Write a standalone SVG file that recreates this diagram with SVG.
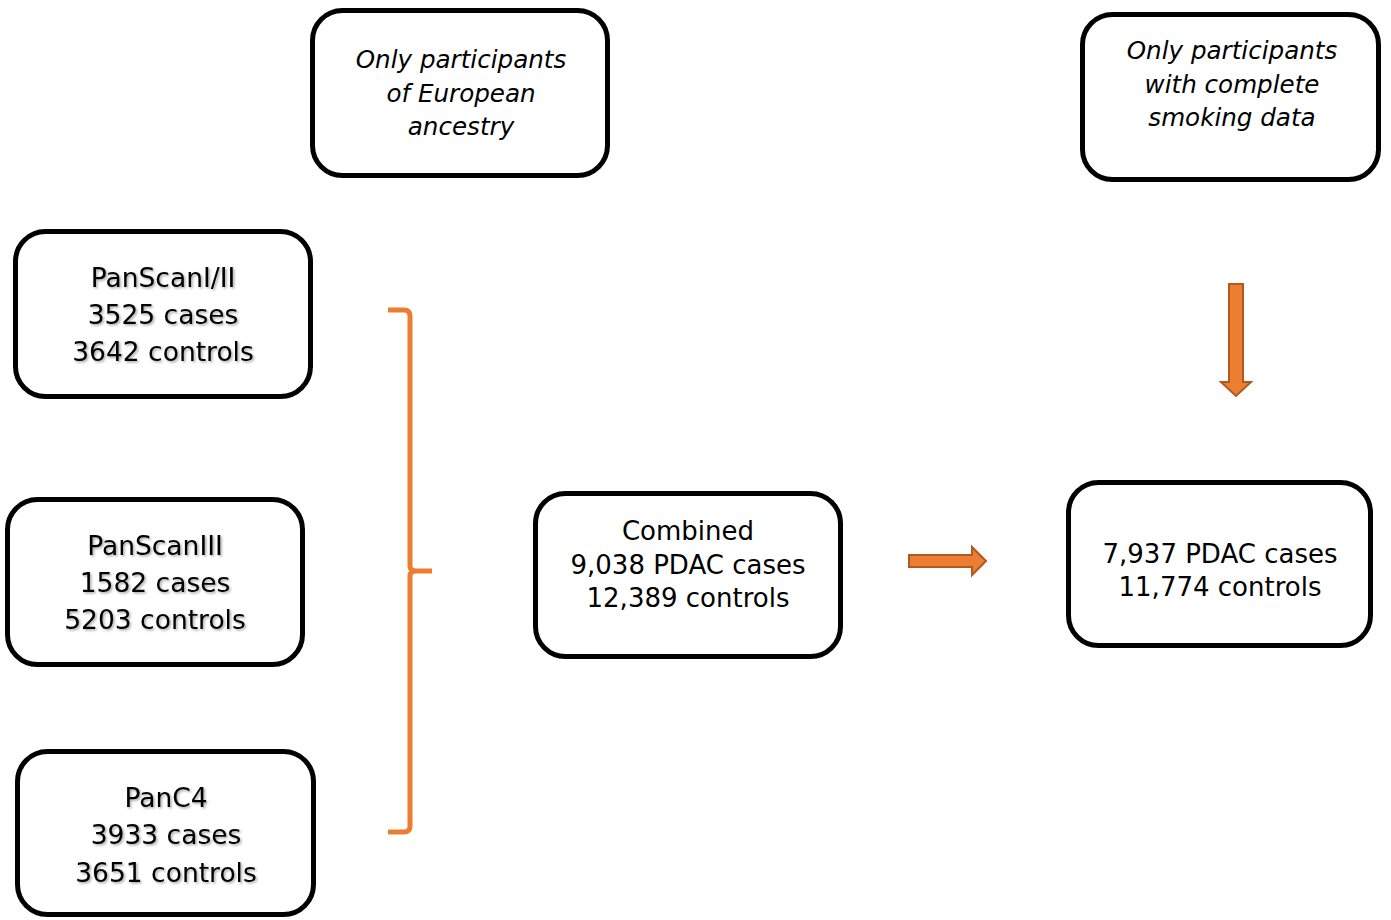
<svg xmlns="http://www.w3.org/2000/svg" width="1391" height="920" viewBox="0 0 1391 920">
<style>
.box{fill:#fff;stroke:#000;stroke-width:5}
.t{font-family:"DejaVu Sans",sans-serif;font-size:26px;fill:#000;text-anchor:middle}
.sh{filter:url(#shadow);font-size:26.5px}
.it{font-family:"DejaVu Sans",sans-serif;font-style:italic;font-size:24.6px;fill:#000;text-anchor:middle}
.arr{fill:#ED7D31;stroke:#AE5A21;stroke-width:2}
</style>
<defs>
<filter id="shadow" x="-10%" y="-20%" width="120%" height="150%">
<feDropShadow dx="1.5" dy="1.5" stdDeviation="1" flood-color="#000" flood-opacity="0.35"/>
</filter>
</defs>
<rect width="1391" height="920" fill="#fff"/>
<g id="filter-european">
<rect class="box" x="312.5" y="10.5" width="295" height="165" rx="30"/>
<text class="it" x="461" y="68">Only participants</text>
<text class="it" x="461" y="102">of European</text>
<text class="it" x="461" y="135">ancestry</text>
</g>
<g id="filter-smoking">
<rect class="box" x="1082.5" y="14.5" width="296" height="165" rx="30"/>
<text class="it" x="1232" y="59">Only participants</text>
<text class="it" x="1232" y="93">with complete</text>
<text class="it" x="1232" y="126">smoking data</text>
</g>
<g id="panscan12">
<rect class="box" x="15.5" y="231.5" width="295" height="165" rx="30"/>
<text class="t sh" x="163" y="287">PanScanI/II</text>
<text class="t sh" x="163" y="324">3525 cases</text>
<text class="t sh" x="163" y="361">3642 controls</text>
</g>
<g id="panscan3">
<rect class="box" x="7.5" y="499.5" width="295" height="165" rx="30"/>
<text class="t sh" x="155" y="555">PanScanIII</text>
<text class="t sh" x="155" y="592">1582 cases</text>
<text class="t sh" x="155" y="629">5203 controls</text>
</g>
<g id="panc4">
<rect class="box" x="17.5" y="751.5" width="296" height="163" rx="30"/>
<text class="t sh" x="166" y="807">PanC4</text>
<text class="t sh" x="166" y="844">3933 cases</text>
<text class="t sh" x="166" y="882">3651 controls</text>
</g>
<g id="combined">
<rect class="box" x="535.5" y="493.5" width="305" height="163" rx="30"/>
<text class="t" x="688" y="540">Combined</text>
<text class="t" x="688" y="574">9,038 PDAC cases</text>
<text class="t" x="688" y="607">12,389 controls</text>
</g>
<g id="final">
<rect class="box" x="1068.5" y="482.5" width="302" height="163" rx="30"/>
<text class="t" x="1220" y="563">7,937 PDAC cases</text>
<text class="t" x="1220" y="596">11,774 controls</text>
</g>
<g id="connectors">
<path d="M388,310 L404,310 Q410,310 410,316 L410,566 Q410,571 416,571 L432,571 M416,571 Q410,571 410,576 L410,826 Q410,832 404,832 L388,832" fill="none" stroke="#ED7D31" stroke-width="5"/>
<path class="arr" d="M909,555 L972,555 L972,547 L986,561 L972,575 L972,567 L909,567 Z"/>
<path class="arr" d="M1229,284 L1243,284 L1243,382 L1251,382 L1236,396 L1221,382 L1229,382 Z"/>
</g>
</svg>
